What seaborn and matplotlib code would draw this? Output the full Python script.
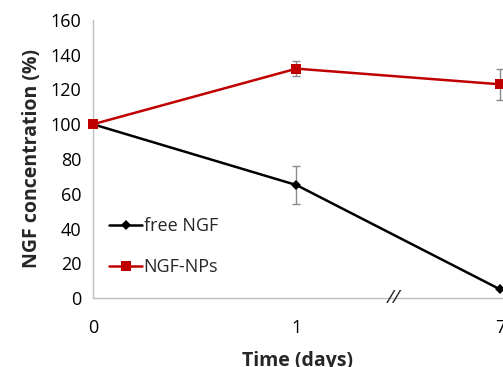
import numpy as np
import pandas as pd
import matplotlib
matplotlib.use('Agg')
import matplotlib.pyplot as plt
import seaborn as sns

# Dữ liệu
time_labels = ['0', '1', '7']
free_ngf = [100, 65, 5]
free_ngf_err = [0, 11, 0]
ngf_nps = [100, 132, 123]
ngf_nps_err = [0, 4.5, 9]

df = pd.DataFrame({
    'pos': list(range(len(time_labels))) * 2,
    'value': free_ngf + ngf_nps,
    'err': free_ngf_err + ngf_nps_err,
    'series': ['free NGF'] * 3 + ['NGF-NPs'] * 3,
})

sns.set_style('white')
plt.rcParams['font.family'] = ['Open Sans', 'DejaVu Sans']

fig = plt.figure(figsize=(5.03, 3.67), dpi=100)
ax = fig.add_axes([93 / 503, 1 - 298 / 367, 1 - 93 / 503, (298 - 20) / 367])

# error bars (gray) first
for name in ['free NGF', 'NGF-NPs']:
    sub = df[df['series'] == name]
    ax.errorbar(sub['pos'], sub['value'], yerr=sub['err'], fmt='none',
                ecolor='#8c8c8c', elinewidth=1, capsize=3, capthick=1,
                zorder=2, clip_on=False)

palette = {'free NGF': 'black', 'NGF-NPs': '#c00000'}
markers = {'free NGF': 'D', 'NGF-NPs': 's'}
sns.lineplot(data=df, x='pos', y='value', hue='series', style='series',
             palette=palette, markers=markers, dashes=False,
             markersize=7, linewidth=1.8, markeredgewidth=0,
             ax=ax, zorder=3, clip_on=False)
for ln in ax.lines:
    if ln.get_marker() == 'D':
        ln.set_markersize(5.5)

ax.set_xlim(0, 2.015)
ax.set_ylim(0, 160)
ax.set_yticks(np.arange(0, 161, 20))
ax.set_xticks(range(len(time_labels)))
ax.set_xticklabels(time_labels)
ax.tick_params(axis='both', labelsize=13, length=5, width=1, direction='out')
ax.tick_params(axis='x', pad=10)
for s in ['top', 'right']:
    ax.spines[s].set_visible(False)
for s in ['left', 'bottom']:
    ax.spines[s].set_color('#bfbfbf')
    ax.spines[s].set_linewidth(1)
ax.tick_params(colors='#bfbfbf', labelcolor='black')

ax.set_ylabel('NGF concentration (%)', fontsize=14, fontweight='bold', labelpad=6)
ax.set_xlabel('Time (days)', fontsize=14, fontweight='bold', labelpad=10)

# dấu ngắt trục
ax.text(1.48, 0, '//', fontsize=14, ha='center', va='center',
        style='italic', clip_on=False, zorder=4)

leg = ax.legend(loc='center left', bbox_to_anchor=(0.0, 0.185), frameon=False,
                fontsize=13, handlelength=1.8, handletextpad=0.1,
                labelspacing=1.25, borderaxespad=0.5)

fig.savefig('out.png', dpi=100)
